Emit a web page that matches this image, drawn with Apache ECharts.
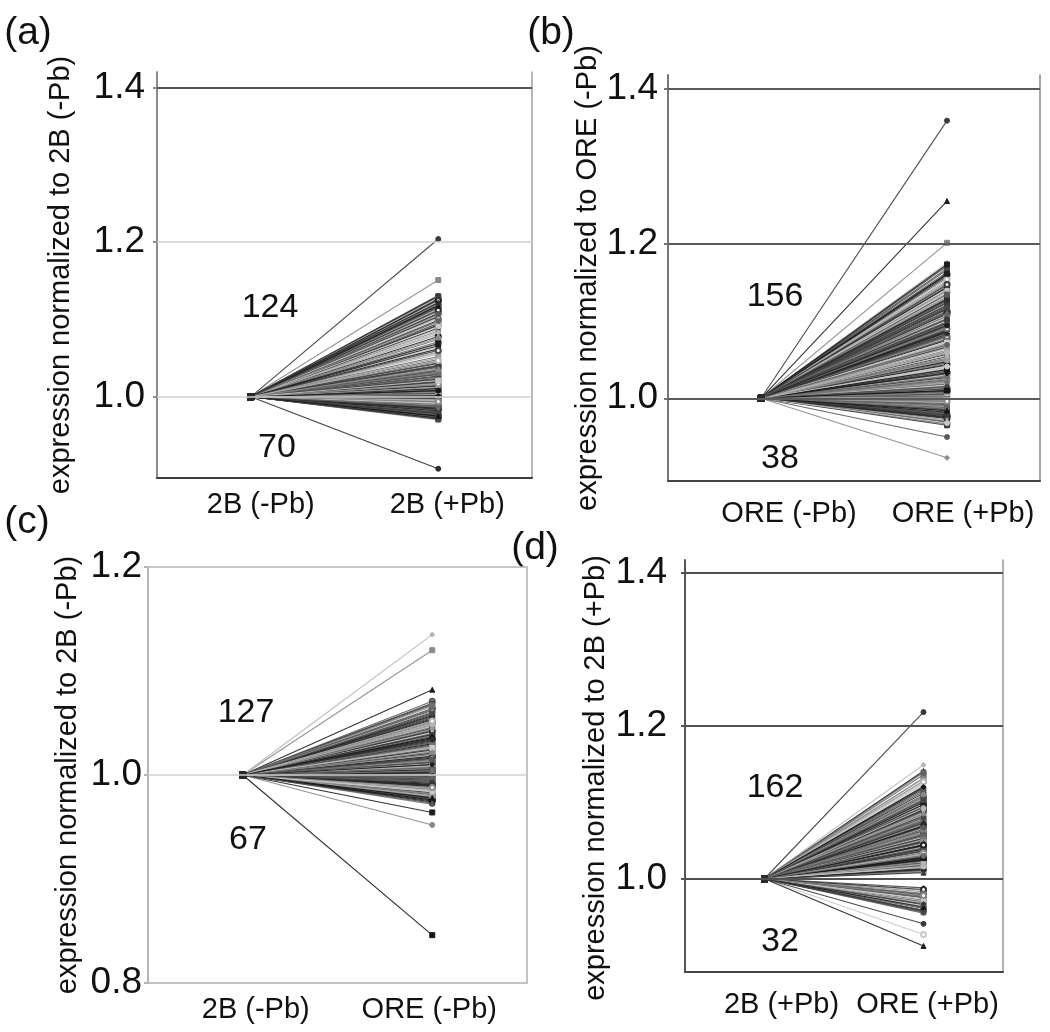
<!DOCTYPE html>
<html><head><meta charset="utf-8">
<script src="https://cdn.jsdelivr.net/npm/echarts@6/dist/echarts.min.js"></script>
<style>html,body{margin:0;padding:0;background:#fff}#c{width:1050px;height:1032px}</style>
</head><body><div id="c"></div>
<script>
// ---------- data ----------
const catsA = ['2B (-Pb)', '2B (+Pb)'];
const catsB = ['ORE (-Pb)', 'ORE (+Pb)'];
const catsC = ['2B (-Pb)', 'ORE (-Pb)'];
const catsD = ['2B (+Pb)', 'ORE (+Pb)'];
const baseline = 1.0;
const ticksA = [1.0, 1.2, 1.4];
const ticksB = [1.0, 1.2, 1.4];
const ticksC = [0.8, 1.0, 1.2];
const ticksD = [1.0, 1.2, 1.4];

const upA = [1.204,1.151,1.131,1.087,1.012,1.118,1.043,1.003,1.126,1.064,
 1.021,1.108,1.006,1.097,1.033,1.122,1.015,1.074,1.001,1.113,
 1.048,1.009,1.129,1.027,1.092,1.004,1.116,1.055,1.018,1.103,
 1.002,1.081,1.038,1.124,1.011,1.095,1.024,1.068,1.007,1.110,
 1.030,1.119,1.014,1.058,1.002,1.101,1.041,1.127,1.019,1.085,
 1.005,1.114,1.035,1.071,1.010,1.106,1.022,1.123,1.046,1.003,
 1.099,1.016,1.062,1.028,1.117,1.008,1.089,1.037,1.121,1.013,
 1.052,1.001,1.104,1.025,1.078,1.006,1.115,1.032,1.093,1.017,
 1.044,1.128,1.009,1.066,1.023,1.111,1.004,1.083,1.039,1.120,
 1.014,1.057,1.029,1.102,1.002,1.125,1.020,1.076,1.011,1.096,
 1.034,1.007,1.112,1.050,1.026,1.091,1.005,1.118,1.040,1.016,
 1.069,1.003,1.107,1.031,1.122,1.012,1.060,1.021,1.098,1.008,
 1.130,1.036,1.001,1.047];
const downA = [0.971,0.988,0.907,0.995,0.979,0.999,0.984,0.973,0.992,0.998,
 0.981,0.990,0.976,0.996,0.986,0.970,0.993,0.983,0.997,0.978,
 0.989,0.974,0.994,0.999,0.982,0.987,0.972,0.995,0.985,0.991,
 0.977,0.998,0.980,0.993,0.975,0.990,0.996,0.983,0.988,0.999,
 0.979,0.992,0.986,0.973,0.997,0.981,0.994,0.989,0.976,0.998,
 0.984,0.991,0.971,0.995,0.987,0.999,0.978,0.993,0.982,0.996,
 0.974,0.990,0.985,0.997,0.980,0.992,0.988,0.975,0.998,0.994];

const upB = [1.359,1.201,1.255,1.175,1.012,1.098,1.143,1.034,1.067,1.005,
 1.121,1.160,1.048,1.019,1.089,1.132,1.003,1.071,1.112,1.040,
 1.168,1.026,1.093,1.057,1.009,1.138,1.081,1.015,1.126,1.062,
 1.001,1.152,1.044,1.104,1.029,1.075,1.118,1.007,1.086,1.051,
 1.146,1.022,1.109,1.036,1.171,1.064,1.013,1.097,1.129,1.045,
 1.002,1.084,1.156,1.031,1.115,1.070,1.018,1.101,1.140,1.054,
 1.008,1.091,1.124,1.038,1.163,1.077,1.024,1.107,1.060,1.011,
 1.135,1.047,1.095,1.149,1.033,1.004,1.082,1.119,1.066,1.016,
 1.166,1.042,1.103,1.027,1.088,1.131,1.006,1.073,1.113,1.052,
 1.158,1.020,1.099,1.039,1.079,1.010,1.127,1.058,1.144,1.030,
 1.092,1.014,1.110,1.068,1.003,1.137,1.046,1.085,1.123,1.025,
 1.173,1.061,1.008,1.106,1.035,1.150,1.076,1.017,1.096,1.043,
 1.120,1.001,1.087,1.154,1.050,1.028,1.116,1.065,1.012,1.141,
 1.080,1.037,1.102,1.021,1.161,1.055,1.005,1.090,1.128,1.049,
 1.015,1.072,1.111,1.032,1.147,1.007,1.094,1.059,1.134,1.023,
 1.083,1.002,1.117,1.041,1.069,1.010];
const downB = [0.992,0.923,0.978,0.997,0.950,0.985,0.969,0.994,0.981,0.966,
 0.999,0.975,0.988,0.972,0.996,0.983,0.967,0.990,0.979,0.998,
 0.986,0.971,0.993,0.976,0.965,0.989,0.982,0.995,0.970,0.987,
 0.974,0.998,0.980,0.968,0.991,0.984,0.977,0.996];

const upC = [1.068,1.120,1.082,1.135,1.071,1.006,1.045,1.018,1.062,1.002,
 1.033,1.011,1.056,1.024,1.004,1.049,1.015,1.038,1.001,1.066,
 1.027,1.009,1.042,1.020,1.058,1.003,1.031,1.013,1.052,1.007,
 1.036,1.022,1.064,1.010,1.044,1.016,1.029,1.002,1.054,1.019,
 1.040,1.005,1.060,1.025,1.012,1.047,1.034,1.008,1.069,1.021,
 1.003,1.037,1.014,1.051,1.026,1.001,1.043,1.011,1.030,1.057,
 1.017,1.006,1.039,1.023,1.063,1.009,1.032,1.004,1.048,1.015,
 1.028,1.012,1.055,1.002,1.035,1.019,1.045,1.007,1.024,1.061,
 1.010,1.041,1.005,1.030,1.016,1.050,1.003,1.027,1.013,1.067,
 1.021,1.008,1.037,1.001,1.046,1.018,1.033,1.006,1.053,1.011,
 1.025,1.004,1.042,1.014,1.059,1.009,1.029,1.002,1.039,1.020,
 1.005,1.048,1.012,1.031,1.001,1.044,1.017,1.026,1.007,1.036,
 1.003,1.022,1.010,1.052,1.015,1.004,1.034];
const downC = [0.991,0.983,0.997,0.976,0.846,0.988,0.952,0.964,0.994,0.979,
 0.999,0.986,0.973,0.995,0.981,0.990,0.977,0.998,0.985,0.992,
 0.974,0.996,0.982,0.989,0.999,0.978,0.993,0.987,0.975,0.997,
 0.984,0.991,0.980,0.998,0.972,0.994,0.988,0.983,0.996,0.977,
 0.990,0.999,0.986,0.974,0.993,0.981,0.997,0.989,0.979,0.995,
 0.985,0.998,0.976,0.992,0.982,0.999,0.987,0.973,0.994,0.990,
 0.980,0.996,0.984,0.998,0.978,0.993,0.988];

const upD = [1.218,1.132,1.141,1.149,1.107,1.024,1.065,1.088,1.013,1.046,
 1.121,1.032,1.076,1.009,1.097,1.055,1.018,1.128,1.039,1.083,
 1.021,1.061,1.102,1.011,1.049,1.072,1.027,1.093,1.015,1.136,
 1.043,1.081,1.019,1.058,1.114,1.025,1.068,1.010,1.090,1.036,
 1.052,1.104,1.016,1.078,1.029,1.125,1.041,1.063,1.012,1.085,
 1.023,1.099,1.047,1.017,1.070,1.033,1.109,1.014,1.056,1.091,
 1.026,1.044,1.118,1.020,1.074,1.038,1.011,1.095,1.059,1.030,
 1.087,1.015,1.050,1.131,1.022,1.066,1.040,1.101,1.013,1.079,
 1.034,1.054,1.018,1.112,1.027,1.071,1.045,1.009,1.093,1.062,
 1.021,1.084,1.037,1.123,1.016,1.057,1.028,1.105,1.048,1.012,
 1.075,1.031,1.097,1.019,1.064,1.042,1.139,1.024,1.082,1.014,
 1.053,1.035,1.116,1.020,1.068,1.010,1.089,1.046,1.026,1.100,
 1.017,1.060,1.039,1.127,1.023,1.077,1.013,1.051,1.094,1.032,
 1.018,1.069,1.043,1.110,1.025,1.086,1.011,1.056,1.036,1.022,
 1.080,1.015,1.047,1.120,1.029,1.064,1.012,1.092,1.040,1.020,
 1.073,1.033,1.103,1.016,1.058,1.027,1.008,1.085,1.044,1.019,
 1.067,1.030];
const downD = [0.975,0.968,0.988,0.927,0.959,0.972,0.941,0.981,0.912,0.964,
 0.977,0.956,0.970,0.985,0.961,0.974,0.955,0.979,0.966,0.983,
 0.958,0.971,0.976,0.962,0.986,0.969,0.957,0.973,0.980,0.963,
 0.967,0.978];

// ---------- styles / layout ----------
const FONT = "'Liberation Sans', Arial, Helvetica, sans-serif";
const palette = ['#3a3a3a','#8a8a8a','#1e1e1e','#b5b5b5','#5a5a5a','#707070',
                 '#2c2c2c','#9e9e9e','#474747','#c8c8c8','#636363','#151515'];
const shapes = ['circle','rect','triangle','diamond','emptyCircle','rect','circle'];
const LABEL_SIZE = 29;

const panels = [
  { letter:'(a)', cats:catsA, up:upA, down:downA, ticks:ticksA, min:0.895, max:1.42,
    grid:{left:157, top:72, width:375, height:406}, box:false,
    title:'expression normalized to 2B (-Pb)', nameGap:82, namePad:[0,0,0,0], tickMargin:12, xMargin:12, xShift:[10,9],
    axisColor:'#8c8c8c', bottomColor:'#3c3c3c', rightColor:'#a0a0a0',
    gridStyle:[{c:'#d0d0d0',w:1.5},{c:'#d0d0d0',w:1.5},{c:'#555',w:2}],
    upPos:[270,308], downPos:[277,448], letterPos:[28,33] },
  { letter:'(b)', cats:catsB, up:upB, down:downB, ticks:ticksB, min:0.893, max:1.418,
    grid:{left:668, top:75, width:372, height:406}, box:false,
    title:'expression normalized to ORE (-Pb)', nameGap:65, namePad:[0,0,0,0], tickMargin:10, xMargin:18, xShift:[28,16],
    axisColor:'#777', bottomColor:'#444', rightColor:'#888',
    gridStyle:[{c:'#5a5a5a',w:2},{c:'#5a5a5a',w:2},{c:'#5a5a5a',w:2}],
    upPos:[775,297], downPos:[780,459], letterPos:[551,33] },
  { letter:'(c)', cats:catsC, up:upC, down:downC, ticks:ticksC, min:0.8, max:1.2,
    grid:{left:148, top:567, width:379, height:416}, box:true,
    title:'expression normalized to 2B (-Pb)', nameGap:66, namePad:[0,0,0,0], tickMargin:6, xMargin:12, xShift:[13,-3],
    axisColor:'#b5b5b5', bottomColor:'#bdbdbd', rightColor:'#c0c0c0',
    gridStyle:[{c:'#c4c4c4',w:1.5},{c:'#cfcfcf',w:1.5},{c:'#c4c4c4',w:1.5}],
    upPos:[246,713], downPos:[248,840], letterPos:[27,522] },
  { letter:'(d)', cats:catsD, up:upD, down:downD, ticks:ticksD, min:0.878, max:1.417,
    grid:{left:685, top:560, width:318, height:412}, box:false,
    title:'expression normalized to 2B (+Pb)', nameGap:75, namePad:[0,24,0,0], tickMargin:18, xMargin:18, xShift:[17,4],
    axisColor:'#555', bottomColor:'#444', rightColor:'#999',
    gridStyle:[{c:'#505050',w:2},{c:'#505050',w:2},{c:'#505050',w:2}],
    upPos:[775,788], downPos:[780,942], letterPos:[535,548] }
];

const grids = [], xAxes = [], yAxes = [], series = [], graphics = [];
panels.forEach((p, pi) => {
  grids.push(Object.assign({containLabel:false, show:p.box, borderColor:'#c0c0c0', borderWidth:1.5}, p.grid));
  const rich = {};
  p.xShift.forEach((s, k) => {
    rich['s' + k] = { fontSize:LABEL_SIZE, fontFamily:FONT, color:'#111',
      padding: s >= 0 ? [0, 0, 0, 2 * s] : [0, -2 * s, 0, 0] };
  });
  xAxes.push({ type:'category', gridIndex:pi, data:p.cats, boundaryGap:true,
    axisLine:{show:true, onZero:false, lineStyle:{color:p.bottomColor, width:2}},
    axisTick:{show:false}, splitLine:{show:false},
    axisLabel:{interval:0, hideOverlap:false, margin:p.xMargin, fontSize:LABEL_SIZE, fontFamily:FONT, color:'#111',
      formatter:(v, k) => '{s' + k + '|' + v + '}', rich:rich} });
  yAxes.push({ type:'value', gridIndex:pi, min:p.min, max:p.max, position:'left',
    axisLine:{show:true, lineStyle:{color:p.axisColor, width:2}},
    axisTick:{show:true, length:4, customValues:p.ticks, lineStyle:{color:p.axisColor, width:2}},
    splitLine:{show:false},
    axisLabel:{customValues:p.ticks, margin:p.tickMargin, fontSize:37, fontFamily:FONT, color:'#111',
      formatter:v => v.toFixed(1)},
    name:p.title, nameLocation:'middle', nameGap:p.nameGap, nameRotate:90,
    nameTextStyle:{fontSize:LABEL_SIZE, fontFamily:FONT, color:'#111', padding:p.namePad} });
  yAxes.push({ type:'value', gridIndex:pi, min:p.min, max:p.max, position:'right',
    axisLine:{show:true, lineStyle:{color:p.rightColor, width:1.5}},
    axisTick:{show:false}, axisLabel:{show:false}, splitLine:{show:false} });
  // gridlines at tick values
  series.push({ type:'line', xAxisIndex:pi, yAxisIndex:2 * pi, data:[], z:1, silent:true,
    markLine:{ silent:true, symbol:['none','none'], label:{show:false}, animation:false,
      data:p.ticks.map((t, j) => ({ yAxis:t, lineStyle:{ color:p.gridStyle[j].c, width:p.gridStyle[j].w, type:'solid' } })) } });
  const vals = p.up.concat(p.down);
  vals.forEach((v, i) => {
    const col = palette[i % palette.length];
    series.push({ type:'line', xAxisIndex:pi, yAxisIndex:2 * pi, z:2, silent:true,
      data:[{value:baseline, symbol:'rect', symbolSize:6, itemStyle:{color:'#2a2a2a', borderColor:'#2a2a2a'}}, v],
      symbol:shapes[i % shapes.length], symbolSize:5, showSymbol:true,
      lineStyle:{ width:1.1, color:col, opacity:0.9 }, itemStyle:{ color:col, borderColor:col },
      emphasis:{disabled:true} });
  });
  const txt = (s, pos, size) => ({ type:'text', x:pos[0], y:pos[1], silent:true,
    style:{ text:s, font:size + 'px ' + FONT, fill:'#111', textAlign:'center', textVerticalAlign:'middle', align:'center', verticalAlign:'middle' } });
  graphics.push(txt(String(p.up.length), p.upPos, 34));
  graphics.push(txt(String(p.down.length), p.downPos, 34));
  graphics.push(txt(p.letter, p.letterPos, 39));
});

const chart = echarts.init(document.getElementById('c'), null, {renderer:'canvas'});
chart.setOption({
  backgroundColor:'#ffffff', animation:false,
  grid:grids, xAxis:xAxes, yAxis:yAxes, series:series, graphic:graphics
});
</script></body></html>
